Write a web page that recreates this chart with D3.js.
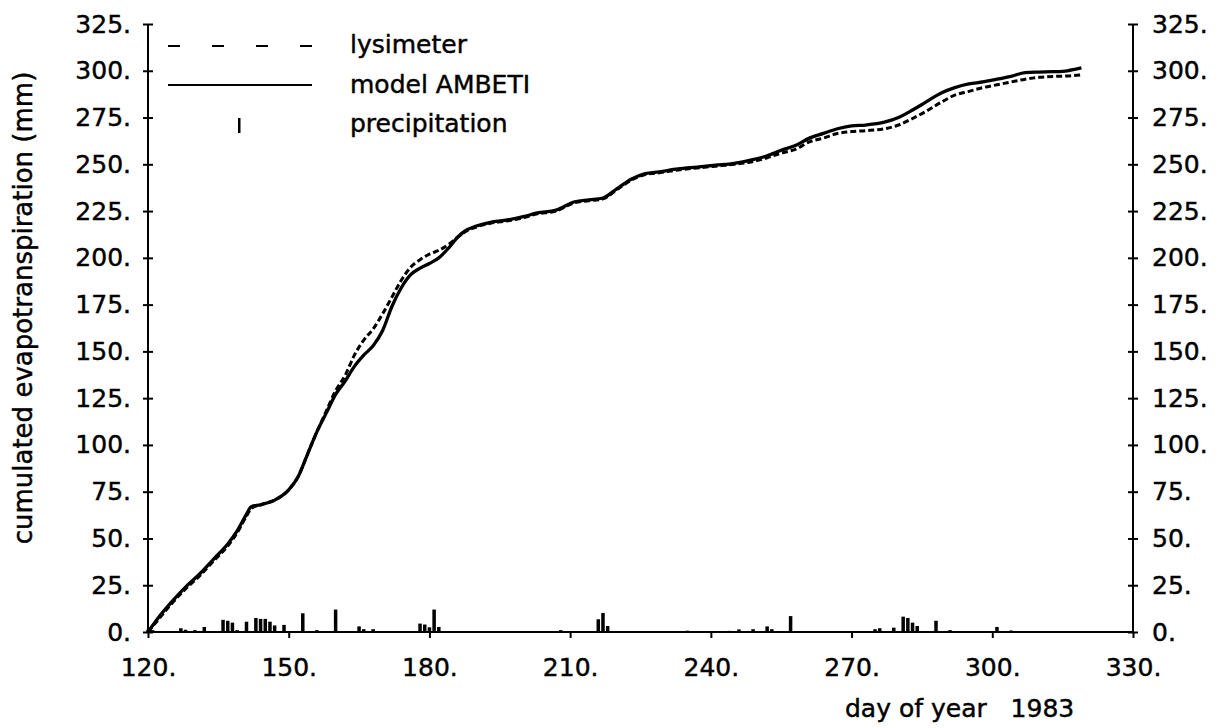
<!DOCTYPE html>
<html>
<head>
<meta charset="utf-8">
<script src="https://cdn.jsdelivr.net/npm/d3@7"></script>
<style>
  html, body { margin: 0; padding: 0; background: #fff; }
  svg text { font-family: "DejaVu Sans", sans-serif; fill: #000; stroke: #000; stroke-width: 0.45px; }
</style>
</head>
<body>
<svg id="chart" width="1221" height="728"></svg>
<script>
// Cumulated evapotranspiration (mm) by day of year, 1983
const days = [120, 122, 125, 128, 131, 134, 137, 139, 141, 142, 144, 147, 150, 152, 154, 156, 158, 160,
  162, 164, 166, 168, 170, 172, 174, 176, 178, 180, 182, 184, 186, 188, 190, 193, 196, 200, 203, 207,
  211, 214, 217, 220, 223, 226, 229, 233, 237, 241, 245, 248, 252, 255, 258, 261, 264, 267, 270, 273,
  277, 280, 283, 286, 289, 292, 295, 298, 301, 304, 307, 310, 313, 316, 319];

const modelAmbeti = [0, 7, 16, 24, 31, 39, 47, 54, 63, 67, 68, 70.5, 76, 83, 95, 107, 117, 127,
  134, 142, 148, 153, 161, 174, 184, 191, 194.5, 197, 200, 205, 211, 215, 217, 219, 220, 222, 224, 225.5,
  230, 231, 232, 237, 242, 245, 246, 247.5, 248.5, 249.5, 250.5, 252, 254.5, 257.5, 260, 264, 266.5, 269, 270.5, 271,
  272.5, 275, 279, 283.5, 288, 291, 293, 294, 295.5, 297, 299, 299.3, 299.5, 300, 301.5];

const lysimeter = [0, 6, 15, 23, 30, 38, 46, 53, 62, 66, 68, 70.5, 76, 83, 95, 107, 118, 129,
  137, 148, 156, 162, 170, 179, 188, 195, 199, 202, 204, 207, 211, 214.5, 216.5, 218.5, 219.5, 221.5, 223.5, 225,
  229.5, 230.5, 231.5, 236.5, 241.5, 244.5, 245.5, 247, 248, 249, 250, 251, 253.5, 256, 258, 262, 264, 266.5, 267.5, 268,
  269, 271, 274.5, 278.5, 283, 287, 289, 291, 292.5, 294, 295.5, 296.5, 297, 297.2, 297.8];

// Daily precipitation (mm)
const precipDays = [120, 121, 122, 127, 128, 130, 132, 136, 137, 138, 139, 141, 143, 144, 145, 146, 147, 149,
  153, 156, 160, 165, 166, 168, 178, 179, 180, 181, 182, 188, 196, 198, 200, 204, 206, 208, 209,
  216, 217, 218, 223, 235, 244, 246, 249, 252, 253, 257, 258, 262, 265, 275, 276, 279, 281, 282, 283, 284,
  288, 290, 291, 301, 304, 316, 320, 325];
const precipValues = [1.2, 1.0, 0.5, 2.0, 1.2, 1.0, 2.7, 6.5, 6.0, 5.0, 1.0, 5.5, 7.5, 7.0, 7.0, 5.5, 3.5, 3.8,
  10.0, 1.0, 12.0, 3.0, 1.5, 1.5, 4.5, 4.0, 2.5, 12.0, 2.7, 0.4, 0.4, 0.5, 0.4, 0.5, 0.4, 1.0, 0.5,
  6.8, 10.2, 3.2, 0.4, 0.7, 0.6, 1.4, 1.5, 3.0, 1.5, 8.5, 0.5, 0.4, 0.4, 1.5, 2.0, 2.3, 8.2, 7.5, 5.0, 3.2,
  6.0, 0.5, 1.0, 2.7, 0.8, 0.3, 0.3, 0.3];

const xTicks = [120, 150, 180, 210, 240, 270, 300, 330];
const yTicks = [0, 25, 50, 75, 100, 125, 150, 175, 200, 225, 250, 275, 300, 325];
const legendLabels = ["lysimeter", "model AMBETI", "precipitation"];
const yTitle = "cumulated evapotranspiration (mm)";
const xTitle = "day of year   1983";

const svg = d3.select("#chart");
const x = d3.scaleLinear().domain([120, 330]).range([148, 1133]);
const y = d3.scaleLinear().domain([0, 325]).range([632, 24]);
const fmt = d => d + ".";
const FS = 25;

// Left axis with ticks crossing the spine
const left = svg.append("g").attr("transform", `translate(${x(120)},0)`)
  .call(d3.axisLeft(y).tickValues(yTicks).tickFormat(fmt).tickSize(5).tickPadding(12));
left.selectAll(".tick line").attr("x1", -5).attr("x2", 5);

// Right axis
const right = svg.append("g").attr("transform", `translate(${x(330)},0)`)
  .call(d3.axisRight(y).tickValues(yTicks).tickFormat(fmt).tickSize(5).tickPadding(14));
right.selectAll(".tick line").attr("x1", -5).attr("x2", 5);

// Bottom axis, ticks pointing down
const bottom = svg.append("g").attr("transform", `translate(0,${y(0)})`)
  .call(d3.axisBottom(x).tickValues(xTicks).tickFormat(fmt).tickSize(6).tickPadding(20));

[left, right, bottom].forEach(g => {
  g.select(".domain").attr("stroke", "#000").attr("stroke-width", 2);
  g.selectAll(".tick line").attr("stroke", "#000").attr("stroke-width", 2);
  g.selectAll(".tick text").style("font-size", FS + "px").attr("fill", "#000");
});
left.select(".domain").attr("d", `M0,${y(0)}V${y(325)}`);
right.select(".domain").attr("d", `M0,${y(0)}V${y(325)}`);
bottom.select(".domain").attr("d", `M${x(120)},0H${x(330)}`);

// Precipitation bars
const barW = 3.5;
svg.append("g").selectAll("rect").data(precipDays).join("rect")
  .attr("x", (d) => x(d) - barW / 2)
  .attr("width", barW)
  .attr("y", (d, i) => y(precipValues[i]))
  .attr("height", (d, i) => y(0) - y(precipValues[i]))
  .attr("fill", "#000");

// Cumulated curves
const lineGen = vals => d3.line()
  .x((d, i) => x(days[i]))
  .y((d) => y(d))
  .curve(d3.curveMonotoneX)(vals);

svg.append("path").attr("d", lineGen(lysimeter))
  .attr("fill", "none").attr("stroke", "#000").attr("stroke-width", 3)
  .attr("stroke-dasharray", "6,3");
svg.append("path").attr("d", lineGen(modelAmbeti))
  .attr("fill", "none").attr("stroke", "#000").attr("stroke-width", 3.3);

// Legend
const lg = svg.append("g");
lg.append("line").attr("x1", 168).attr("x2", 312).attr("y1", 46).attr("y2", 46)
  .attr("stroke", "#000").attr("stroke-width", 2).attr("stroke-dasharray", "12,32");
lg.append("line").attr("x1", 168).attr("x2", 312).attr("y1", 85).attr("y2", 85)
  .attr("stroke", "#000").attr("stroke-width", 2);
lg.append("rect").attr("x", 238).attr("y", 118).attr("width", 2.5).attr("height", 15).attr("fill", "#000");
lg.selectAll("text").data(legendLabels).join("text")
  .attr("x", 350).attr("y", (d, i) => [53, 93, 132][i])
  .style("font-size", FS + "px").text(d => d);

// Axis titles
svg.append("text").attr("transform", "translate(32,308) rotate(-90)")
  .attr("text-anchor", "middle").style("font-size", "26px").text(yTitle);
svg.append("text").attr("x", 845).attr("y", 717)
  .style("font-size", FS + "px").style("white-space", "pre").attr("xml:space", "preserve").text(xTitle);
</script>
</body>
</html>
